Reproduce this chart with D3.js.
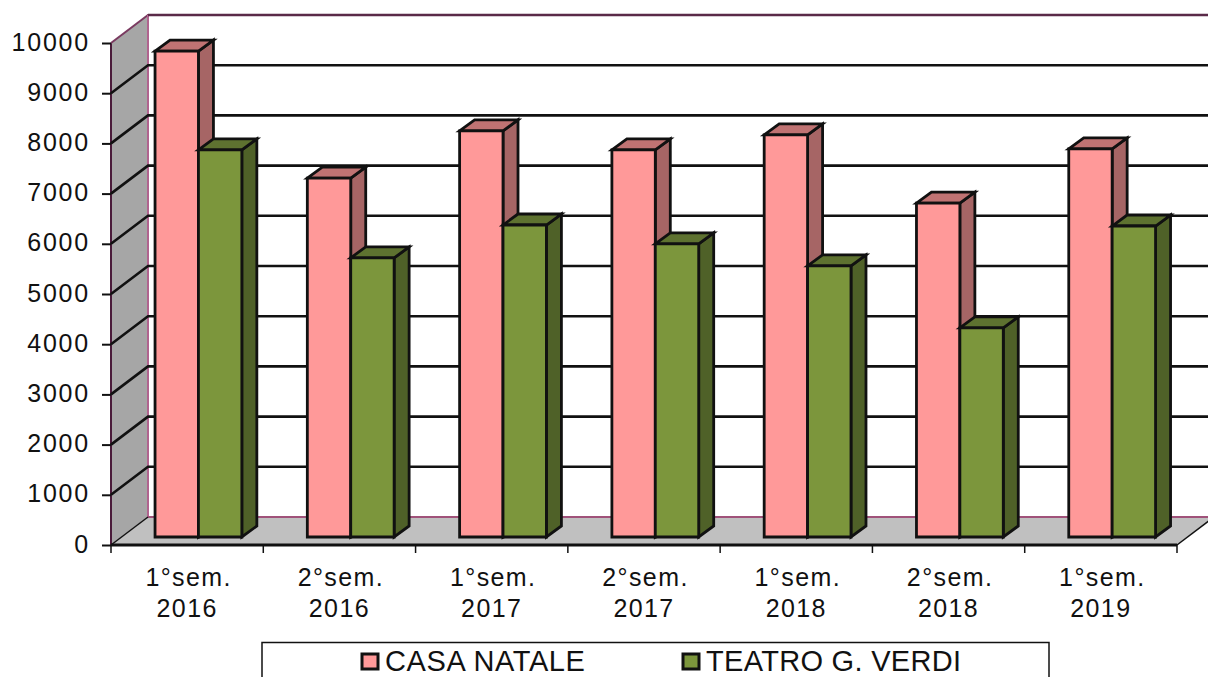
<!DOCTYPE html>
<html><head><meta charset="utf-8">
<script src="https://cdn.jsdelivr.net/npm/d3@7"></script>
<style>html,body{margin:0;padding:0;background:#fff;overflow:hidden}svg{display:block}
text{font-family:"Liberation Sans",Arial,sans-serif;fill:#111}</style></head><body>
<svg id="c" width="1208" height="677"></svg>
<script>
const periods=["1°sem.","2°sem.","1°sem.","2°sem.","1°sem.","2°sem.","1°sem."];
const years=["2016","2016","2017","2017","2018","2018","2019"];
const casaNatale=[9680,7150,8090,7710,8010,6650,7730];
const teatroVerdi=[7710,5560,6215,5840,5400,4165,6195];
const seriesNames=["CASA NATALE","TEATRO G. VERDI"];
const yTicks=[0,1000,2000,3000,4000,5000,6000,7000,8000,9000,10000];

const svg=d3.select("#c");
const L=111,R=1177,F=545,T=43,DX=37,DY=-28;
const zFront=[11.3,-8],zBar=[15,-11];
const keys=periods.map((p,i)=>i);
const x=d3.scaleBand().domain(keys).range([L,R]).paddingInner(0.43).paddingOuter(0.215);
const xs=d3.scaleBand().domain([0,1]).range([0,x.bandwidth()]);
const y=d3.scaleLinear().domain([0,10000]).range([F,T]);
const pts=a=>a.map(p=>p.join(",")).join(" ");

// back wall
svg.append("rect").attr("x",L+DX).attr("y",y(10000)+DY).attr("width",R-L).attr("height",F-T)
  .attr("fill","#fff").attr("stroke","#a0527a").attr("stroke-width",2);
// side wall
svg.append("polygon").attr("points",pts([[L,F],[L+DX,F+DY],[L+DX,T+DY],[L,T]]))
  .attr("fill","#a6a6a6").attr("stroke","none");
svg.append("line").attr("x1",L).attr("x2",L).attr("y1",T).attr("y2",F).attr("stroke","#4a1b3a").attr("stroke-width",2);
svg.append("line").attr("x1",L).attr("x2",L+DX).attr("y1",T).attr("y2",T+DY).attr("stroke","#7a3a60").attr("stroke-width",2);
svg.append("line").attr("x1",L+DX).attr("x2",L+DX).attr("y1",T+DY).attr("y2",F+DY).attr("stroke","#b0648f").attr("stroke-width",2);
// floor
svg.append("polygon").attr("points",pts([[L,F],[R,F],[R+DX,F+DY],[L+DX,F+DY]])).attr("fill","#c0c0c0");
svg.append("line").attr("x1",L+DX).attr("x2",R+DX).attr("y1",F+DY).attr("y2",F+DY).attr("stroke","#a0527a").attr("stroke-width",2);
svg.append("line").attr("x1",L).attr("x2",L+DX).attr("y1",F).attr("y2",F+DY).attr("stroke","#111").attr("stroke-width",1.5);
svg.append("line").attr("x1",R).attr("x2",R+DX).attr("y1",F).attr("y2",F+DY).attr("stroke","#111").attr("stroke-width",1.5);
// grid
const grid=svg.append("g");
yTicks.slice(1).forEach(t=>{
  if(t<10000) grid.append("polyline").attr("points",pts([[L,y(t)],[L+DX,y(t)+DY],[R+DX,y(t)+DY]]))
   .attr("fill","none").attr("stroke","#111").attr("stroke-width",2.6);
  else grid.append("line").attr("x1",L+DX).attr("x2",R+DX).attr("y1",y(t)+DY).attr("y2",y(t)+DY).attr("stroke","#5a2a48").attr("stroke-width",2.4);
});
// axes
const yAxis=svg.append("g").attr("transform",`translate(${L},0)`)
  .call(d3.axisLeft(y).tickValues(yTicks).tickFormat(d3.format("d")).tickSize(9).tickPadding(12));
yAxis.select(".domain").remove();
yAxis.selectAll("line").attr("stroke","#111").attr("stroke-width",2);
yAxis.selectAll("text").attr("font-size",25).attr("letter-spacing","1.8px").attr("dy","0.28em").attr("fill","#111");
svg.append("line").attr("x1",L).attr("x2",R).attr("y1",F).attr("y2",F).attr("stroke","#111").attr("stroke-width",3);
d3.range(periods.length+1).forEach(i=>{
  const px=L+i*x.step();
  svg.append("line").attr("x1",px).attr("x2",px).attr("y1",F).attr("y2",F+8).attr("stroke","#111").attr("stroke-width",1.5);
});
// bars
const styles=[{f:"#ff9999",t:"#c07373",s:"#a66565"},{f:"#7c963c",t:"#5e7230",s:"#4f6128"}];
const sets=[casaNatale,teatroVerdi];
keys.forEach(i=>{
  sets.forEach((vals,k)=>{
    const st=styles[k],x0=x(i)+xs(k)+zFront[0],w=xs.bandwidth();
    const yb=F+zFront[1],yt=y(vals[i])+zFront[1],dx=zBar[0],dy=zBar[1];
    const g=svg.append("g").attr("stroke","#111").attr("stroke-width",2.8).attr("stroke-linejoin","miter");
    g.append("polygon").attr("points",pts([[x0+w,yt],[x0+w+dx,yt+dy],[x0+w+dx,yb+dy],[x0+w,yb]])).attr("fill",st.s);
    g.append("polygon").attr("points",pts([[x0,yt],[x0+dx,yt+dy],[x0+w+dx,yt+dy],[x0+w,yt]])).attr("fill",st.t);
    g.append("polygon").attr("points",pts([[x0,yt],[x0+w,yt],[x0+w,yb],[x0,yb]])).attr("fill",st.f);
  });
});
// category labels
keys.forEach(i=>{
  const cx=L+(i+.5)*x.step();
  svg.append("text").attr("x",cx+1.5).attr("y",586).attr("text-anchor","middle").attr("font-size",25).attr("letter-spacing","1.4px").text(periods[i]);
  svg.append("text").attr("x",cx).attr("y",617).attr("text-anchor","middle").attr("font-size",25).attr("letter-spacing","1.4px").text(years[i]);
});
// legend
svg.append("rect").attr("x",262).attr("y",642.5).attr("width",787).attr("height",40).attr("fill","#fff").attr("stroke","#111").attr("stroke-width",1.5);
[[362,385,0.6],[683,706,0.3]].forEach((p,k)=>{
  svg.append("rect").attr("x",p[0]).attr("y",654).attr("width",16).attr("height",15).attr("fill",styles[k].f).attr("stroke","#111").attr("stroke-width",3);
  svg.append("text").attr("x",p[1]).attr("y",670.5).attr("font-size",29).attr("letter-spacing",p[2]+"px").text(seriesNames[k]);
});
</script></body></html>
